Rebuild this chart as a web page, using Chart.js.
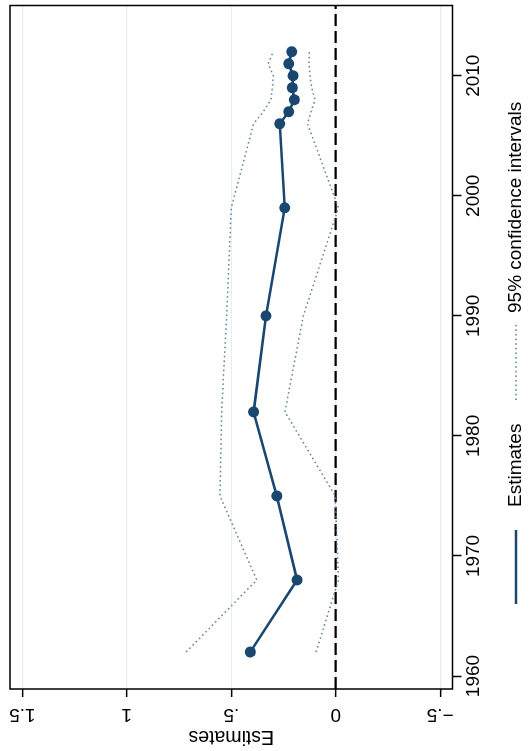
<!DOCTYPE html>
<html lang="en">
<head>
<meta charset="UTF-8">
<title>Estimates by year</title>
<script src="https://cdn.jsdelivr.net/npm/chart.js"></script>
<style>
    html, body { margin: 0; padding: 0; background: #fff; overflow: hidden; }
    #wrap {
        position: absolute; left: 0; top: 0;
        width: 751px; height: 532px;
        transform-origin: 0 0;
        transform: translate(0, 751px) rotate(-90deg);
    }
</style>
</head>
<body>
<div id="wrap"><canvas id="chart" width="751" height="532"></canvas></div>
<script>
    // data
    const years = [1962, 1968, 1975, 1982, 1990, 1999, 2006, 2007, 2008, 2009, 2010, 2011, 2012];
    const estimates = [0.409, 0.185, 0.282, 0.393, 0.334, 0.244, 0.268, 0.225, 0.198, 0.208, 0.204, 0.225, 0.211];
    const ciUpper = [0.716, 0.378, 0.554, 0.546, 0.522, 0.500, 0.393, 0.347, 0.310, 0.303, 0.299, 0.323, 0.299];
    const ciLower = [0.094, -0.013, 0.002, 0.243, 0.155, -0.013, 0.135, 0.118, 0.099, 0.115, 0.123, 0.128, 0.126];

    const yearTicks = [1960, 1970, 1980, 1990, 2000, 2010];
    const estTicks = [-0.5, 0, 0.5, 1, 1.5];
    const estTickLabels = ['\u2212.5', '0', '.5', '1', '1.5'];
    const refLineY = [0, 0];

    const X_MIN = 1958.92, X_MAX = 2015.85;
    const Y_MIN = -0.559, Y_MAX = 1.559;

    const navy = '#1a476f';
    const ciColor = '#6283a3';
    const ciDash = [1.6, 3];
    const fontFamily = '"Liberation Sans", Arial, Helvetica, sans-serif';

    const pts = (ys) => years.map((yr, i) => ({ x: yr, y: ys[i] }));

    // rotated labels, frame and legend (Stata style)
    const stataBits = {
        id: 'stataBits',
        afterDraw(chart) {
            const { ctx, chartArea: a, scales } = chart;
            ctx.save();
            ctx.strokeStyle = '#000';
            ctx.lineWidth = 1.5;
            ctx.strokeRect(a.left, a.top, a.right - a.left, a.bottom - a.top);

            ctx.fillStyle = '#000';
            ctx.font = '19px ' + fontFamily;
            ctx.textAlign = 'center';
            ctx.textBaseline = 'middle';
            estTicks.forEach((v, i) => {
                const py = scales.y.getPixelForValue(v);
                ctx.save();
                ctx.translate(37, py);
                ctx.rotate(-Math.PI / 2);
                ctx.fillText(estTickLabels[i], 0, 0);
                ctx.restore();
            });

            // legend
            const ly = 516;
            ctx.lineWidth = 2.6;
            ctx.strokeStyle = navy;
            ctx.beginPath();
            ctx.moveTo(147, ly);
            ctx.lineTo(221, ly);
            ctx.stroke();
            ctx.lineWidth = 1.5;
            ctx.strokeStyle = ciColor;
            ctx.setLineDash(ciDash);
            ctx.beginPath();
            ctx.moveTo(351, ly);
            ctx.lineTo(428, ly);
            ctx.stroke();
            ctx.setLineDash([]);
            ctx.textAlign = 'left';
            ctx.fillText('Estimates', 244, ly);
            ctx.fillText('95% confidence intervals', 438, ly);
            ctx.restore();
        }
    };

    new Chart(document.getElementById('chart'), {
        type: 'line',
        data: {
            datasets: [
                {
                    label: 'Estimates',
                    data: pts(estimates),
                    borderColor: navy,
                    backgroundColor: navy,
                    borderWidth: 2.6,
                    pointRadius: 5.5,
                    pointBorderWidth: 0,
                    pointBackgroundColor: navy
                },
                {
                    label: '95% confidence intervals',
                    data: pts(ciUpper),
                    borderColor: ciColor,
                    borderWidth: 1.5,
                    borderDash: ciDash,
                    pointRadius: 0
                },
                {
                    label: 'lower',
                    data: pts(ciLower),
                    borderColor: ciColor,
                    borderWidth: 1.5,
                    borderDash: ciDash,
                    pointRadius: 0
                },
                {
                    label: 'zero',
                    data: [{ x: X_MIN, y: refLineY[0] }, { x: X_MAX, y: refLineY[1] }],
                    borderColor: '#000',
                    borderWidth: 2.2,
                    borderDash: [12, 5],
                    pointRadius: 0
                }
            ]
        },
        options: {
            responsive: false,
            animation: false,
            devicePixelRatio: 1,
            layout: { padding: { top: 10, right: 1, left: 0, bottom: 0 } },
            plugins: { legend: { display: false }, tooltip: { enabled: false } },
            scales: {
                x: {
                    type: 'linear',
                    min: X_MIN,
                    max: X_MAX,
                    afterBuildTicks: s => { s.ticks = yearTicks.map(v => ({ value: v })); },
                    afterFit: s => { s.height = 79.5; },
                    grid: { drawOnChartArea: false, tickLength: 9, tickColor: '#000', tickWidth: 1.5 },
                    border: { display: false },
                    ticks: {
                        padding: 1,
                        color: '#000',
                        font: { family: fontFamily, size: 19 },
                        callback: v => String(v)
                    }
                },
                y: {
                    type: 'linear',
                    min: Y_MIN,
                    max: Y_MAX,
                    afterBuildTicks: s => { s.ticks = estTicks.map(v => ({ value: v })); },
                    afterFit: s => { s.width = 62; },
                    grid: { color: '#e6eef2', lineWidth: 1.3, tickLength: 8, tickColor: '#000', tickWidth: 1.5 },
                    border: { display: false },
                    ticks: { display: false },
                    title: {
                        display: true,
                        text: 'Estimates',
                        color: '#000',
                        padding: { top: 3, bottom: 0 },
                        font: { family: fontFamily, size: 19.5 }
                    }
                }
            }
        },
        plugins: [stataBits]
    });
</script>
</body>
</html>
